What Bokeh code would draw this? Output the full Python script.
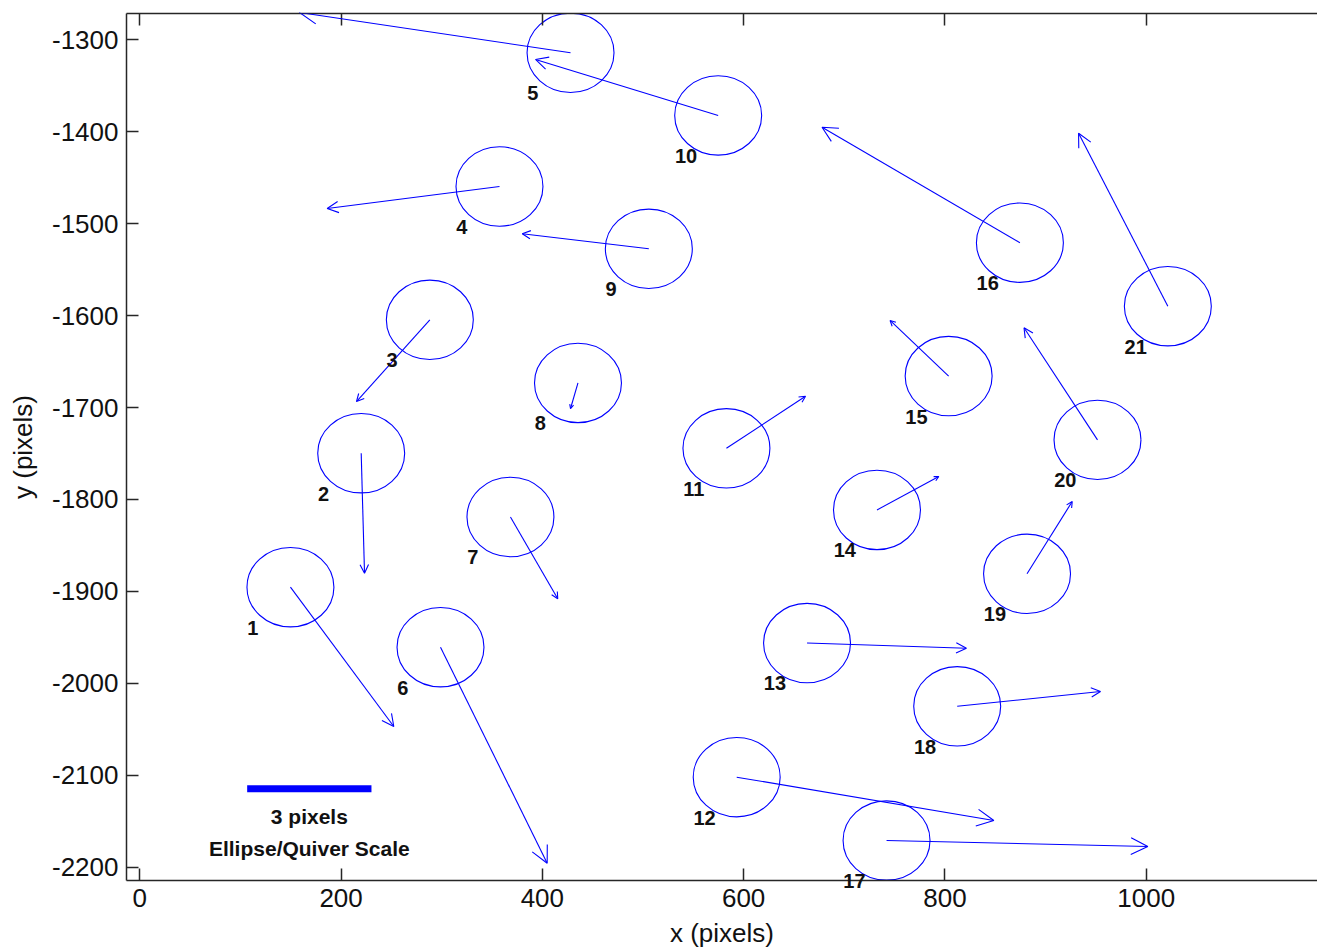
from bokeh.plotting import figure
from bokeh.models import (ColumnDataSource, Arrow, OpenHead, LinearAxis,
                          FixedTicker, Range1d, PrintfTickFormatter, CustomJSTickFormatter)
from bokeh.embed import file_html
from bokeh.resources import INLINE
from bokeh.core.properties import value, field

# ---- data ----
point_ids = [str(i) for i in range(1, 22)]
x = [149.7, 220.0, 288.2, 357.4, 428.0, 298.8, 368.3, 435.4, 505.8, 574.7, 582.9,
     593.1, 663.0, 732.5, 803.7, 874.5, 742.0, 812.2, 881.6, 951.6, 1021.5]
y = [-1895.4, -1749.7, -1604.6, -1459.6, -1314.1, -1960.7, -1819.1, -1673.3, -1527.3,
     -1382.3, -1744.4, -2102.1, -1956.2, -1811.4, -1665.8, -1520.7, -2171.0, -2025.0,
     -1880.9, -1735.2, -1589.8]
u = [102.7, 3.3, -72.9, -171.2, -269.3, 106.0, 47.0, -7.4, -125.8, -181.5, 78.6,
     255.5, 158.4, 61.4, -58.2, -196.6, 259.6, 142.4, 44.9, -73.0, -88.7]
v = [-151.6, -130.5, -88.9, -23.9, 43.8, -235.0, -89.0, -27.8, 16.3, 60.9, 56.7,
     -47.1, -5.6, 36.4, 60.5, 125.6, -6.5, 16.1, 78.7, 121.9, 188.2]
ellipse_radius = 43.2
x_ticks = [0, 200, 400, 600, 800, 1000]
y_ticks = [-2200, -2100, -2000, -1900, -1800, -1700, -1600, -1500, -1400, -1300]
scale_bar_x = [106.7, 230.2]
scale_bar_y = -2114.7
scale_texts = ["3 pixels", "Ellipse/Quiver Scale"]
scale_text_y = [-2144.9, -2180.0]

BLUE = "#0000ff"
FONT = "Liberation Sans"
AXC = "#262626"

xe = [a + b for a, b in zip(x, u)]
ye = [a + b for a, b in zip(y, v)]
head = [max(4.0, 0.065 * (a * a + b * b) ** 0.5) for a, b in zip(u, v)]
src = ColumnDataSource(dict(x=x, y=y, xe=xe, ye=ye, head=head, label=point_ids,
                            lx=[a - 43 for a in x], ly=[b - 44 for b in y]))

p = figure(frame_width=1191, frame_height=867,
           min_border_left=126, min_border_right=0, min_border_top=13, min_border_bottom=67,
           x_range=Range1d(-13.2, 1170.2), y_range=Range1d(-2214.5, -1271.4),
           output_backend="svg", toolbar_location=None,
           x_axis_label="x (pixels)", y_axis_label="y (pixels)")
p.outline_line_color = None
p.grid.visible = False
p.background_fill_color = "white"
p.border_fill_color = "white"

bottom = p.below[0]
left = p.left[0]
bottom.ticker = FixedTicker(ticks=x_ticks)
left.ticker = FixedTicker(ticks=y_ticks)
bottom.formatter = PrintfTickFormatter(format="%d")
left.formatter = PrintfTickFormatter(format="%d")
top = LinearAxis(ticker=FixedTicker(ticks=x_ticks),
                 formatter=CustomJSTickFormatter(code="return ''"),
                 major_label_text_font_size="8px", major_label_standoff=0, axis_label=None)
p.add_layout(top, "above")

for ax in [bottom, left, top]:
    ax.major_tick_in = 12
    ax.major_tick_out = 0
    ax.minor_tick_line_color = None
    ax.axis_line_width = 1.5
    ax.axis_line_color = AXC
    ax.major_tick_line_width = 1.5
    ax.major_tick_line_color = AXC
    ax.major_label_text_font = FONT
    ax.major_label_text_color = "#111111"
    ax.axis_label_text_font = FONT
    ax.axis_label_text_font_style = "normal"
    ax.axis_label_text_font_size = "26px"
    ax.axis_label_text_color = "#111111"
for ax in [bottom, left]:
    ax.major_label_text_font_size = "26px"
    ax.major_label_standoff = 8
bottom.axis_label_standoff = 8
left.axis_label_standoff = 11

p.ellipse(x="x", y="y", width=2 * ellipse_radius, height=2 * ellipse_radius, source=src,
          fill_color=None, line_color=BLUE, line_width=1.1)

p.add_layout(Arrow(end=OpenHead(size=field("head"), line_color=BLUE, line_width=1.1),
                   x_start="x", y_start="y", x_end="xe", y_end="ye", source=src,
                   line_color=BLUE, line_width=1.1))

p.text(x="lx", y="ly", text="label", source=src, text_align="left",
       text_baseline="middle", text_font=value(FONT), text_font_size="20px",
       text_font_style="bold", text_color="#111111", level="overlay")

p.line(x=scale_bar_x, y=[scale_bar_y, scale_bar_y], line_width=7, line_color=BLUE)
cx = sum(scale_bar_x) / 2
p.text(x=[cx, cx], y=scale_text_y, text=scale_texts, text_align="center",
       text_baseline="middle", text_font=value(FONT), text_font_size="21px",
       text_font_style="bold", text_color="#111111")

open("out.html", "w").write(file_html(p, INLINE))
